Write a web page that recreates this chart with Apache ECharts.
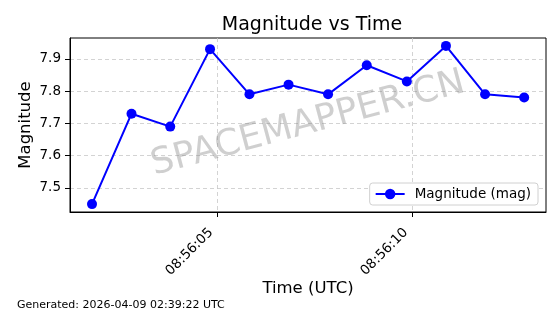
<!DOCTYPE html>
<html>
<head>
<meta charset="utf-8">
<script src="https://cdn.jsdelivr.net/npm/echarts@6/dist/echarts.min.js"></script>
<style>
html,body{margin:0;padding:0;background:#fff;}
#chart{width:560px;height:314px;}
</style>
</head>
<body>
<div id="chart"></div>
<script>
// Data
const times = ['08:56:01.785','08:56:02.798','08:56:03.791','08:56:04.812','08:56:05.823','08:56:06.826',
               '08:56:07.840','08:56:08.832','08:56:09.861','08:56:10.864','08:56:11.867','08:56:12.870'];
const magnitudes = [7.45, 7.73, 7.69, 7.93, 7.79, 7.82, 7.79, 7.88, 7.83, 7.94, 7.79, 7.78];
const xTickSeconds = [5, 10];           // 08:56:05, 08:56:10
const yTicks = [7.5, 7.6, 7.7, 7.8, 7.9];

function toSec(t){ const p = t.split(':'); return (+p[0])*3600 + (+p[1])*60 + (+p[2]) - (8*3600 + 56*60); }
const seriesData = times.map((t,i)=>[toSec(t), magnitudes[i]]);

const FONT = 'DejaVu Sans';
const chart = echarts.init(document.getElementById('chart'), null, {renderer:'canvas'});
chart.setOption({
  backgroundColor:'#fff',
  animation:false,
  title:{
    text:'Magnitude vs Time', left:307, top:11, textAlign:'center',
    textStyle:{fontFamily:FONT, fontSize:19, fontWeight:'normal', color:'#000'}
  },
  grid:{left:70, right:14, top:38, bottom:102, show:true, borderColor:'#000', borderWidth:1, backgroundColor:'transparent'},
  xAxis:{
    type:'value', min:1.22, max:13.43, splitNumber:2,
    name:'Time (UTC)', nameLocation:'middle', nameGap:68, nameMoveOverlap:false,
    nameTextStyle:{fontFamily:FONT, fontSize:16.5, color:'#000'},
    axisLine:{show:true, lineStyle:{color:'#000', width:1}},
    axisTick:{show:true, customValues:xTickSeconds, length:5, lineStyle:{color:'#000'}},
    axisLabel:{customValues:xTickSeconds, rotate:45, margin:12, padding:[0,9,0,0], fontFamily:FONT, fontSize:13.5, color:'#000',
      formatter:v=>'08:56:' + String(Math.round(v)).padStart(2,'0')},
    splitLine:{show:true, lineStyle:{color:'#c8c8c8', type:[4,3], width:0.8}}
  },
  yAxis:{
    type:'value', min:7.4255, max:7.9645, splitNumber:5,
    name:'Magnitude', nameLocation:'middle', nameGap:36, nameMoveOverlap:false,
    nameTextStyle:{fontFamily:FONT, fontSize:16.5, color:'#000'},
    axisLine:{show:true, lineStyle:{color:'#000', width:1}},
    axisTick:{show:true, customValues:yTicks, length:5, lineStyle:{color:'#000'}},
    axisLabel:{customValues:yTicks, margin:9, fontFamily:FONT, fontSize:13.5, color:'#000', formatter:v=>v.toFixed(1)},
    splitLine:{show:true, lineStyle:{color:'#c8c8c8', type:[4,3], width:0.8}}
  },
  legend:{
    right:22, bottom:109, orient:'horizontal',
    backgroundColor:'#fff', borderColor:'#d0d0d0', borderWidth:1, borderRadius:3,
    padding:[4,7,4,5], itemWidth:29, itemHeight:13,
    textStyle:{fontFamily:FONT, fontSize:13.5, color:'#000', padding:[0,0,0,5]},
    data:['Magnitude (mag)']
  },
  graphic:[
    {type:'text', x:308, y:124, rotation:15*Math.PI/180, z:1, silent:true,
     style:{text:'SPACEMAPPER.CN', fontFamily:FONT, fontSize:36, fill:'rgba(128,128,128,0.38)', align:'center', verticalAlign:'middle'}},
    {type:'text', x:17, y:300,
     style:{text:'Generated: 2026-04-09 02:39:22 UTC', fontFamily:FONT, fontSize:11, fill:'#000'}}
  ],
  series:[{
    name:'Magnitude (mag)', type:'line', data:seriesData, z:3,
    symbol:'circle', symbolSize:10,
    lineStyle:{color:'#0000ff', width:2},
    itemStyle:{color:'#0000ff'}
  }]
});
</script>
</body>
</html>
